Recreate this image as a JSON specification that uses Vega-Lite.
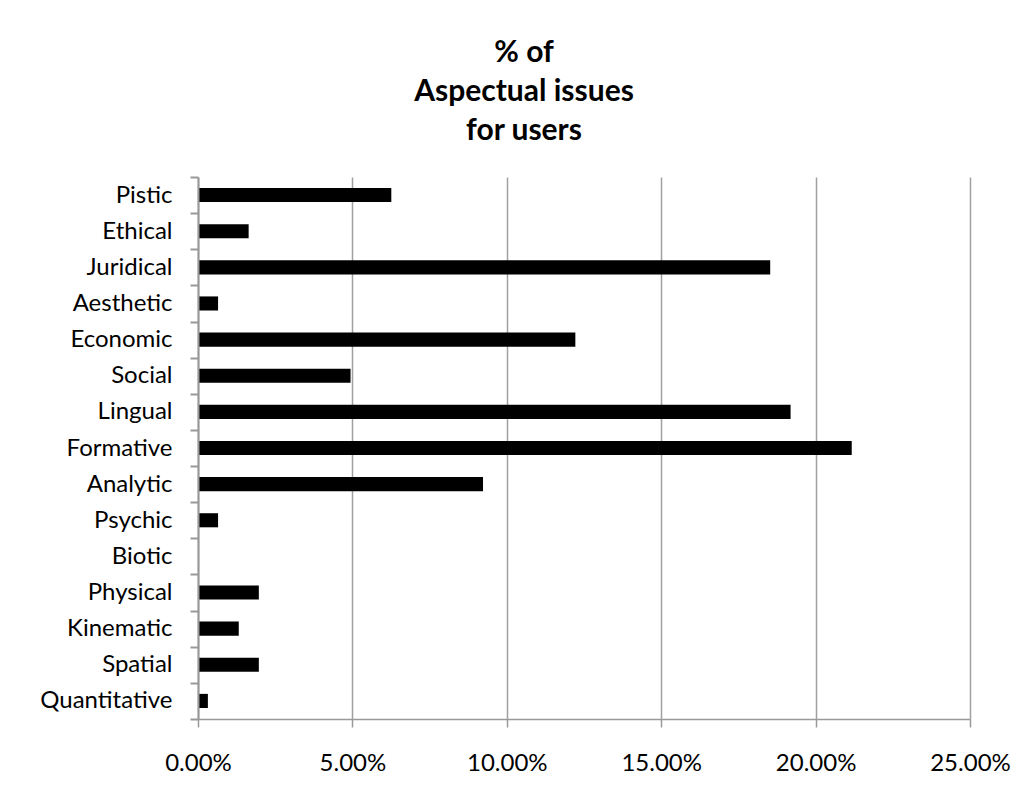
{
  "$schema": "https://vega.github.io/schema/vega-lite/v6.json",
  "autosize": "none",
  "width": 772,
  "height": 542,
  "padding": {"left": 198, "top": 177, "right": 54, "bottom": 79},
  "background": "white",
  "title": {
    "text": ["% of", "Aspectual issues", "for users"],
    "font": "Lato",
    "fontSize": 30,
    "fontWeight": "bold",
    "color": "black",
    "lineHeight": 39,
    "anchor": "middle",
    "dx": -60,
    "offset": 19
  },
  "data": {
    "values": [
      {"aspect": "Pistic", "pct": 0.0626},
      {"aspect": "Ethical", "pct": 0.0164},
      {"aspect": "Juridical", "pct": 0.1853},
      {"aspect": "Aesthetic", "pct": 0.0065},
      {"aspect": "Economic", "pct": 0.1222},
      {"aspect": "Social", "pct": 0.0494},
      {"aspect": "Lingual", "pct": 0.1919},
      {"aspect": "Formative", "pct": 0.2117},
      {"aspect": "Analytic", "pct": 0.0923},
      {"aspect": "Psychic", "pct": 0.0065},
      {"aspect": "Biotic", "pct": 0},
      {"aspect": "Physical", "pct": 0.0197},
      {"aspect": "Kinematic", "pct": 0.0132},
      {"aspect": "Spatial", "pct": 0.0197},
      {"aspect": "Quantitative", "pct": 0.0032}
    ]
  },
  "mark": {"type": "bar", "color": "black", "height": {"band": 0.39}},
  "encoding": {
    "y": {
      "field": "aspect",
      "type": "nominal",
      "sort": null,
      "title": null,
      "scale": {"paddingInner": 0, "paddingOuter": 0},
      "axis": {
        "domain": true,
        "ticks": true,
        "tickBand": "extent",
        "tickSize": 8,
        "tickColor": "#999999",
        "tickWidth": 2,
        "domainColor": "#999999",
        "domainWidth": 2,
        "labelFont": "Lato",
        "labelFontSize": 24,
        "labelColor": "black",
        "labelPadding": 18,
        "grid": false,
        "zindex": 1
      }
    },
    "x": {
      "field": "pct",
      "type": "quantitative",
      "title": null,
      "scale": {"domain": [0, 0.25], "nice": false},
      "axis": {
        "values": [0, 0.05, 0.1, 0.15, 0.2, 0.25],
        "format": ".2%",
        "labelFlush": false,
        "labelOverlap": false,
        "grid": true,
        "gridColor": "#a0a0a0",
        "gridWidth": 1.5,
        "tickSize": 8,
        "tickColor": "#999999",
        "tickWidth": 1.5,
        "domainColor": "#999999",
        "domainWidth": 1.5,
        "labelFont": "Lato",
        "labelFontSize": 24,
        "labelColor": "black",
        "labelPadding": 24
      }
    }
  },
  "config": {"view": {"stroke": null}}
}
